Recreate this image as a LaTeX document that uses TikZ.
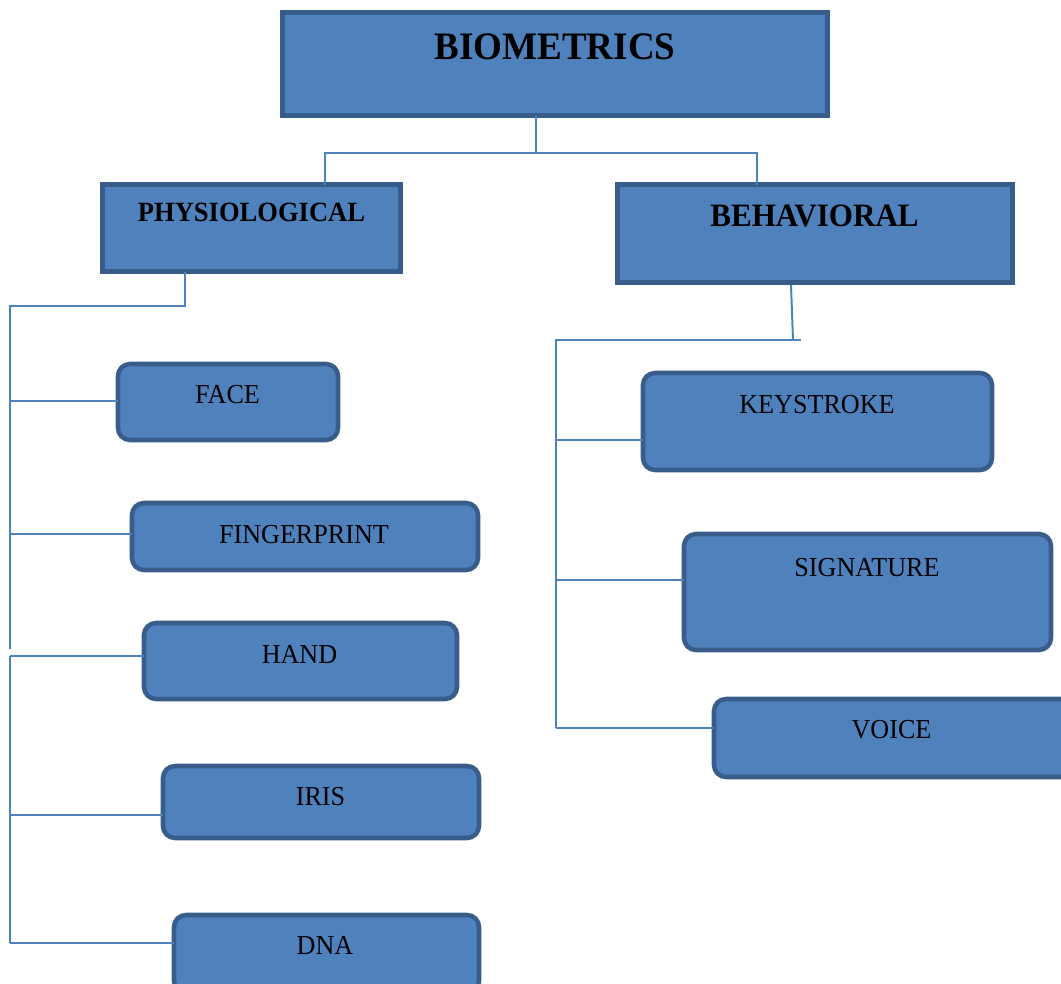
\documentclass[tikz,border=0pt]{standalone}
\usepackage{fontspec}
\setmainfont{Liberation Serif}
\usetikzlibrary{fit}
\definecolor{boxfill}{HTML}{4F81BD}
\definecolor{boxedge}{HTML}{385D8A}
\definecolor{linkblue}{HTML}{4F81BD}
% text in the boxes is set slightly taller than its natural shape
\newcommand{\tallt}[1]{\scalebox{1}[1.05]{#1}}
\tikzset{
  headbox/.style={draw=boxedge, fill=boxfill, line width=3.75pt, inner sep=0pt, outer sep=0pt},
  leafbox/.style={draw=boxedge, fill=boxfill, line width=3.4pt, rounded corners=9pt, inner sep=0pt, outer sep=0pt},
  lbl/.style={anchor=base, inner sep=0pt, text=black},
  leaftext/.style={lbl, font=\fontsize{19.6}{23}\selectfont},
  link/.style={draw=linkblue, line width=1.5pt}
}
\begin{document}
\begin{tikzpicture}[x=0.75pt, y=-0.75pt]
\useasboundingbox (0,0) rectangle (1061,983);

% top level and the two categories
\node[headbox, fit={(282.5,12.5) (827.5,115.5)}] (bio) {};
\node[lbl, font=\bfseries\fontsize{27.8}{32}\selectfont] (t-bio) at (555,59.5) {\tallt{BIOMETRICS}};
\node[headbox, fit={(102.5,184.5) (400.5,271.5)}] (phys) {};
\node[lbl, font=\bfseries\fontsize{19.9}{23}\selectfont] (t-phys) at (251.5,221) {\tallt{PHYSIOLOGICAL}};
\node[headbox, fit={(617.5,184.5) (1012.5,282.5)}] (beh) {};
\node[lbl, font=\bfseries\fontsize{23.3}{27}\selectfont] (t-beh) at (814.5,226) {\tallt{BEHAVIORAL}};

% physiological traits
\node[leafbox, fit={(118,364) (338,440)}] (face) {};
\node[leaftext] (t-face) at (227.5,403) {\tallt{FACE}};
\node[leafbox, fit={(132,503) (478,570)}] (finger) {};
\node[leaftext] (t-finger) at (304,543) {\tallt{FINGERPRINT}};
\node[leafbox, fit={(144,623) (457,699)}] (hand) {};
\node[leaftext] (t-hand) at (299.5,663) {\tallt{HAND}};
\node[leafbox, fit={(163,766) (479,838)}] (iris) {};
\node[leaftext] (t-iris) at (320.5,805) {\tallt{IRIS}};
\node[leafbox, fit={(174,915) (479,993)}] (dna) {};
\node[leaftext] (t-dna) at (325,954) {\tallt{DNA}};

% behavioural traits
\node[leafbox, fit={(643,373) (992,470)}] (key) {};
\node[leaftext] (t-key) at (817,413) {\tallt{KEYSTROKE}};
\node[leafbox, fit={(684,534) (1051,650)}] (sig) {};
\node[leaftext] (t-sig) at (867,576) {\tallt{SIGNATURE}};
\node[leafbox, fit={(714,699) (1073,777)}] (voice) {};
\node[leaftext] (t-voice) at (891.5,738) {\tallt{VOICE}};

% junction points
\coordinate (j0) at (536,153);
\coordinate (jl) at (325,153);
\coordinate (jr) at (757,153);
\coordinate (p1) at (185,306);
\coordinate (p2) at (10,306);
\coordinate (p3) at (10,649);
\coordinate (p4) at (10,656);
\coordinate (p5) at (10,943);
\coordinate (b0) at (791,285);
\coordinate (b1) at (793,340);
\coordinate (b2) at (801,340);
\coordinate (b3) at (556,340);
\coordinate (b4) at (556,728);

% top tree
\draw[link] (j0 |- bio.south) -- (j0);
\draw[link] (jl |- phys.north) -- (jl) -- (jr) -- (jr |- beh.north);

% physiological branch
\draw[link] (p1 |- phys.south) -- (p1) -- (p2) -- (p3);
\draw[link] (10,401) -- (face.west |- 0,401);
\draw[link] (10,534) -- (finger.west |- 0,534);
\draw[link] (p4) -- (p5);
\draw[link] (p4) -- (hand.west |- p4);
\draw[link] (10,815) -- (iris.west |- 0,815);
\draw[link] (p5) -- (dna.west |- p5);

% behavioural branch
\draw[link] (b0) -- (b1);
\draw[link] (b2) -- (b3) -- (b4);
\draw[link] (556,440) -- (key.west |- 0,440);
\draw[link] (556,580) -- (sig.west |- 0,580);
\draw[link] (b4) -- (voice.west |- b4);
\end{tikzpicture}
\end{document}
